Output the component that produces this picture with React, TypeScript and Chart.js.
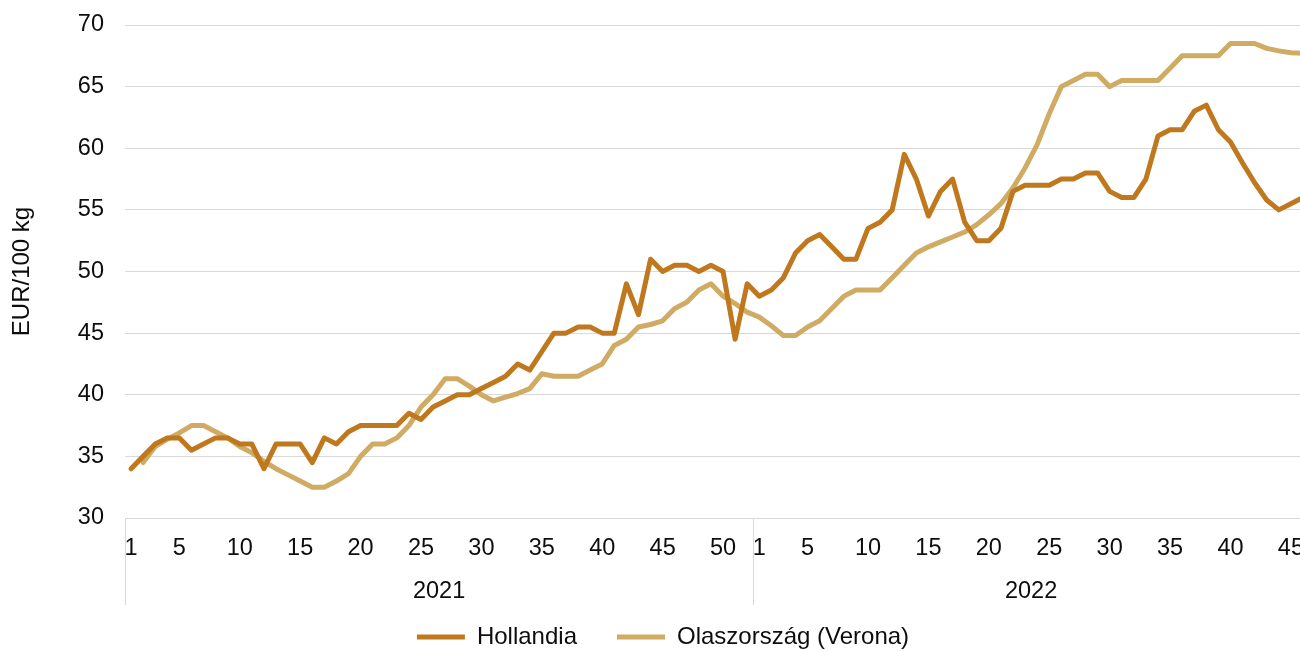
import { useEffect, useRef } from 'react';
import { Chart, registerables } from 'chart.js';

Chart.register(...registerables);

const years = ['2021', '2022'];
const weeks2021 = [1, 2, 3, 4, 5, 6, 7, 8, 9, 10, 11, 12, 13, 14, 15, 16, 17, 18, 19, 20, 21, 22, 23, 24, 25, 26, 27, 28, 29, 30, 31, 32, 33, 34, 35, 36, 37, 38, 39, 40, 41, 42, 43, 44, 45, 46, 47, 48, 49, 50, 51, 52];
const weeks2022 = [1, 2, 3, 4, 5, 6, 7, 8, 9, 10, 11, 12, 13, 14, 15, 16, 17, 18, 19, 20, 21, 22, 23, 24, 25, 26, 27, 28, 29, 30, 31, 32, 33, 34, 35, 36, 37, 38, 39, 40, 41, 42, 43, 44, 45, 46];

const hollandia2021 = [34, 35, 36, 36.5, 36.5, 35.5, 36, 36.5, 36.5, 36, 36, 34, 36, 36, 36, 34.5, 36.5, 36, 37, 37.5, 37.5, 37.5, 37.5, 38.5, 38, 39, 39.5, 40, 40, 40.5, 41, 41.5, 42.5, 42, 43.5, 45, 45, 45.5, 45.5, 45, 45, 49, 46.5, 51, 50, 50.5, 50.5, 50, 50.5, 50, 44.5, 49];
const hollandia2022 = [48, 48.5, 49.5, 51.5, 52.5, 53, 52, 51, 51, 53.5, 54, 55, 59.5, 57.5, 54.5, 56.5, 57.5, 54, 52.5, 52.5, 53.5, 56.5, 57, 57, 57, 57.5, 57.5, 58, 58, 56.5, 56, 56, 57.5, 61, 61.5, 61.5, 63, 63.5, 61.5, 60.5, 58.8, 57.2, 55.8, 55, 55.5, 56];
const verona2021 = [null, 34.5, 35.8, 36.4, 36.9, 37.5, 37.5, 37, 36.5, 35.8, 35.3, 34.6, 34, 33.5, 33, 32.5, 32.5, 33, 33.6, 35, 36, 36, 36.5, 37.5, 39, 40, 41.3, 41.3, 40.7, 40, 39.5, 39.8, 40.1, 40.5, 41.7, 41.5, 41.5, 41.5, 42, 42.5, 44, 44.5, 45.5, 45.7, 46, 47, 47.5, 48.5, 49, 48, 47.4, 46.7];
const verona2022 = [46.3, 45.6, 44.8, 44.8, 45.5, 46, 47, 48, 48.5, 48.5, 48.5, 49.5, 50.5, 51.5, 52, 52.4, 52.8, 53.2, 53.8, 54.6, 55.5, 56.8, 58.4, 60.3, 62.8, 65, 65.5, 66, 66, 65, 65.5, 65.5, 65.5, 65.5, 66.5, 67.5, 67.5, 67.5, 67.5, 68.5, 68.5, 68.5, 68.1, 67.9, 67.75, 67.7];

const seriesNames = ['Hollandia', 'Olaszország (Verona)'];
const yAxisTitle = 'EUR/100 kg';

const FONT = '"Liberation Sans", Arial, Helvetica, sans-serif';
const TEXT = '#0d0d0d';
const GRID = '#d9d9d9';
const TICK_SIZE = 23.5;

const yearCounts = [weeks2021.length, weeks2022.length];
const weekLabels = [...weeks2021, ...weeks2022];

const yearAxisPlugin = {
  id: 'yearAxis',
  afterDraw(chart: any) {
    const x = chart.scales.x;
    const area = chart.chartArea;
    const ctx = chart.ctx;
    const half = (x.getPixelForValue(1) - x.getPixelForValue(0)) / 2;
    ctx.save();
    ctx.strokeStyle = GRID;
    ctx.lineWidth = 1;
    ctx.font = `${TICK_SIZE}px ${FONT}`;
    ctx.fillStyle = TEXT;
    ctx.textAlign = 'center';
    ctx.textBaseline = 'middle';
    const bounds: number[] = [x.getPixelForValue(0) - half];
    let start = 0;
    yearCounts.forEach((n, i) => {
      const left = x.getPixelForValue(start) - half;
      const right = x.getPixelForValue(start + n - 1) + half;
      ctx.fillText(years[i], (left + right) / 2, area.bottom + 74);
      bounds.push(right);
      start += n;
    });
    bounds.forEach((b) => {
      const px = Math.round(b) + 0.5;
      ctx.beginPath();
      ctx.moveTo(px, area.bottom);
      ctx.lineTo(px, area.bottom + 87);
      ctx.stroke();
    });
    ctx.restore();
  },
};

export default function App() {
  const ref = useRef<HTMLCanvasElement | null>(null);

  useEffect(() => {
    document.body.style.margin = '0';
    if (!ref.current) return;
    Chart.defaults.font.family = FONT;
    const chart = new Chart(ref.current, {
      type: 'line',
      data: {
        labels: weekLabels.map(String),
        datasets: [
          {
            label: seriesNames[0],
            data: [...hollandia2021, ...hollandia2022],
            borderColor: '#BF781E',
            backgroundColor: '#BF781E',
            borderWidth: 5,
            pointRadius: 0,
            tension: 0,
            borderCapStyle: 'round',
            borderJoinStyle: 'round',
          },
          {
            label: seriesNames[1],
            data: [...verona2021, ...verona2022],
            borderColor: '#CFAB63',
            backgroundColor: '#CFAB63',
            borderWidth: 5,
            pointRadius: 0,
            tension: 0,
            borderCapStyle: 'round',
            borderJoinStyle: 'round',
          },
        ],
      },
      options: {
        responsive: false,
        animation: false,
        layout: { padding: { top: 25, right: 1, bottom: -8, left: 17 } },
        plugins: {
          legend: {
            position: 'bottom',
            labels: {
              usePointStyle: true,
              pointStyle: 'line',
              pointStyleWidth: 48,
              padding: 40,
              color: TEXT,
              font: { size: 24, family: FONT },
            },
          },
          tooltip: { enabled: false },
        },
        scales: {
          x: {
            type: 'category',
            offset: true,
            grid: { display: false, drawTicks: false },
            border: { display: false },
            ticks: {
              autoSkip: false,
              maxRotation: 0,
              minRotation: 0,
              padding: 16,
              color: TEXT,
              font: { size: TICK_SIZE, family: FONT },
              callback: (_v: any, i: number) => {
                const w = weekLabels[i];
                return w === 1 || w % 5 === 0 ? String(w) : '';
              },
            },
            afterFit: (scale: any) => {
              scale.height = 67;
              scale.paddingLeft = 0;
              scale.paddingRight = 0;
            },
          },
          y: {
            min: 30,
            max: 70,
            ticks: {
              stepSize: 5,
              padding: 21,
              color: TEXT,
              font: { size: TICK_SIZE, family: FONT },
            },
            grid: { color: GRID, lineWidth: 1, drawTicks: false },
            border: { display: false },
            title: {
              display: true,
              text: yAxisTitle,
              color: TEXT,
              padding: { top: -9, bottom: 0 },
              font: { size: 24, family: FONT },
            },
            afterFit: (scale: any) => {
              scale.width = 108;
              scale.paddingTop = 0;
              scale.paddingBottom = 0;
            },
          },
        },
      },
      plugins: [yearAxisPlugin],
    } as any);
    return () => chart.destroy();
  }, []);

  return (
    <div style={{ width: 1300, height: 651, overflow: 'hidden' }}>
      <canvas ref={ref} width={1310} height={651} style={{ display: 'block' }} />
    </div>
  );
}
